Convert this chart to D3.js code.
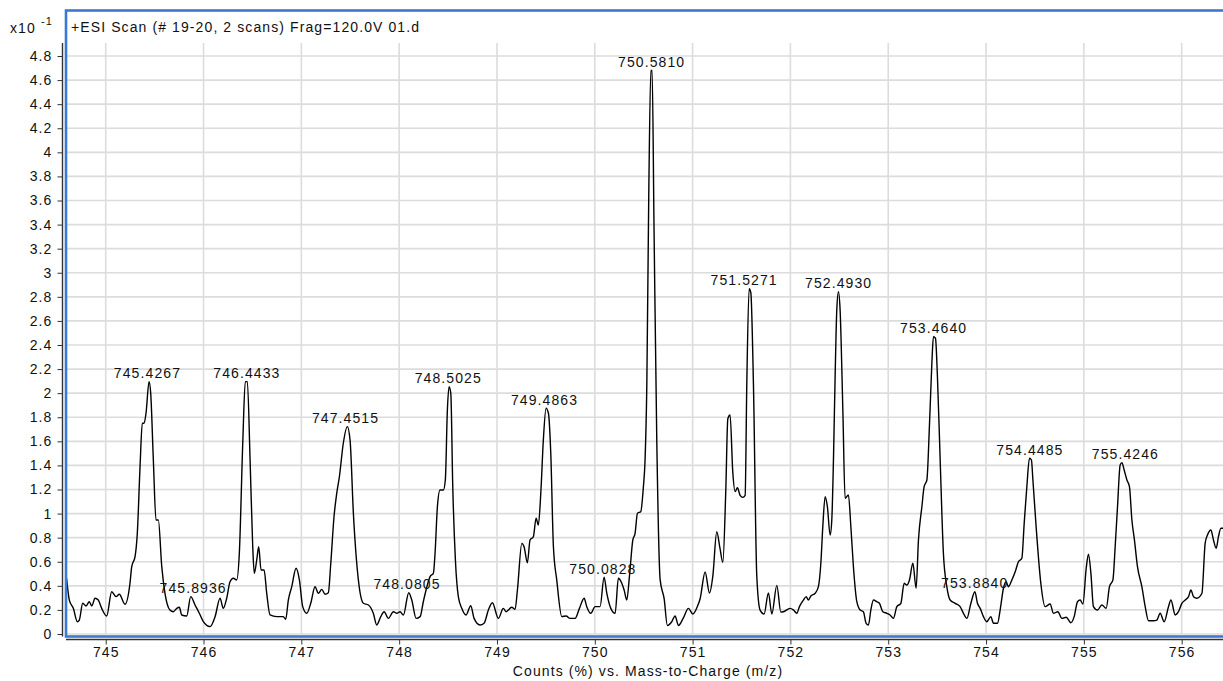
<!DOCTYPE html>
<html>
<head>
<meta charset="utf-8">
<script src="https://cdn.jsdelivr.net/npm/d3@7"></script>
<style>
  body { margin: 0; background: #fff; }
  text { font-family: "Liberation Sans", Arial, sans-serif; }
</style>
</head>
<body>
<div id="my_dataviz"></div>
<script>
// spectrum trace, m/z and counts (x10^-1)
var mzValues = [
  744.600, 744.628, 744.669, 744.710, 744.730, 744.765, 744.799, 744.832, 744.857, 744.891,
  744.924, 744.959, 745.010, 745.061, 745.105, 745.139, 745.197, 745.248, 745.266, 745.300,
  745.323, 745.351, 745.374, 745.392, 745.412, 745.443, 745.460, 745.487, 745.514, 745.538,
  745.573, 745.606, 745.657, 745.691, 745.726, 745.753, 745.777, 745.828, 745.869, 745.913,
  745.957, 745.998, 746.067, 746.118, 746.169, 746.202, 746.237, 746.271, 746.305, 746.339,
  746.366, 746.401, 746.427, 746.448, 746.476, 746.503, 746.519, 746.544, 746.564, 746.588,
  746.619, 746.646, 746.680, 746.748, 746.816, 746.840, 746.867, 746.902, 746.946, 746.980,
  747.014, 747.055, 747.096, 747.140, 747.174, 747.209, 747.242, 747.276, 747.301, 747.334,
  747.362, 747.389, 747.429, 747.470, 747.498, 747.532, 747.583, 747.634, 747.685, 747.736,
  747.771, 747.812, 747.846, 747.890, 747.941, 747.976, 748.009, 748.043, 748.098, 748.129,
  748.173, 748.214, 748.247, 748.275, 748.316, 748.350, 748.367, 748.391, 748.418, 748.452,
  748.472, 748.493, 748.510, 748.528, 748.548, 748.575, 748.605, 748.640, 748.684, 748.732,
  748.766, 748.827, 748.868, 748.912, 748.953, 749.014, 749.065, 749.093, 749.151, 749.185,
  749.209, 749.254, 749.277, 749.311, 749.338, 749.372, 749.400, 749.423, 749.448, 749.474,
  749.502, 749.526, 749.550, 749.577, 749.611, 749.663, 749.707, 749.747, 749.799, 749.843,
  749.891, 749.918, 749.959, 750.003, 750.054, 750.095, 750.123, 750.164, 750.208, 750.241,
  750.276, 750.300, 750.327, 750.354, 750.389, 750.412, 750.436, 750.470, 750.497, 750.514,
  750.532, 750.552, 750.573, 750.586, 750.606, 750.634, 750.668, 750.709, 750.742, 750.787,
  750.821, 750.855, 750.906, 750.957, 751.002, 751.049, 751.077, 751.128, 751.172, 751.207,
  751.247, 751.281, 751.309, 751.339, 751.360, 751.383, 751.411, 751.435, 751.458, 751.486,
  751.513, 751.537, 751.554, 751.578, 751.595, 751.622, 751.656, 751.690, 751.731, 751.775,
  751.810, 751.861, 751.902, 751.928, 751.997, 752.031, 752.065, 752.092, 752.133, 752.161,
  752.184, 752.209, 752.253, 752.286, 752.311, 752.331, 752.355, 752.378, 752.406, 752.423,
  752.440, 752.457, 752.474, 752.491, 752.508, 752.536, 752.559, 752.593, 752.618, 752.644,
  752.679, 752.713, 752.746, 752.774, 752.798, 752.822, 752.849, 752.883, 752.910, 752.945,
  752.986, 753.019, 753.053, 753.088, 753.129, 753.163, 753.190, 753.217, 753.252, 753.285,
  753.309, 753.344, 753.367, 753.395, 753.421, 753.446, 753.462, 753.483, 753.503, 753.531,
  753.564, 753.599, 753.633, 753.684, 753.735, 753.769, 753.804, 753.845, 753.886, 753.912,
  753.940, 753.973, 754.008, 754.049, 754.076, 754.117, 754.144, 754.178, 754.205, 754.229,
  754.264, 754.298, 754.331, 754.366, 754.390, 754.417, 754.444, 754.464, 754.479, 754.512,
  754.560, 754.604, 754.655, 754.689, 754.734, 754.775, 754.819, 754.867, 754.901, 754.935,
  754.962, 754.990, 755.024, 755.047, 755.072, 755.098, 755.139, 755.184, 755.228, 755.262,
  755.297, 755.320, 755.344, 755.371, 755.389, 755.412, 755.440, 755.466, 755.491, 755.517,
  755.548, 755.593, 755.627, 755.661, 755.712, 755.746, 755.780, 755.821, 755.865, 755.890,
  755.934, 755.967, 756.002, 756.036, 756.070, 756.094, 756.121, 756.155, 756.207, 756.240,
  756.264, 756.299, 756.325, 756.353, 756.376, 756.401, 756.424
];
var countValues = [
  0.463, 0.282, 0.213, 0.102, 0.116, 0.255, 0.233, 0.268, 0.233, 0.297,
  0.282, 0.213, 0.150, 0.351, 0.310, 0.330, 0.247, 0.421, 0.559, 0.642,
  0.836, 1.390, 1.750, 1.750, 1.833, 2.096, 1.999, 1.445, 0.947, 0.947,
  0.559, 0.338, 0.199, 0.185, 0.213, 0.222, 0.158, 0.150, 0.310, 0.241,
  0.172, 0.102, 0.061, 0.144, 0.297, 0.213, 0.297, 0.434, 0.463, 0.449,
  0.670, 1.584, 2.096, 2.096, 1.445, 0.725, 0.504, 0.615, 0.725, 0.532,
  0.532, 0.338, 0.158, 0.144, 0.144, 0.122, 0.282, 0.393, 0.546, 0.449,
  0.227, 0.172, 0.255, 0.393, 0.338, 0.371, 0.330, 0.343, 0.587, 0.974,
  1.169, 1.306, 1.584, 1.722, 1.611, 1.003, 0.449, 0.255, 0.241, 0.172,
  0.075, 0.144, 0.185, 0.130, 0.185, 0.172, 0.185, 0.158, 0.343, 0.282,
  0.130, 0.144, 0.268, 0.365, 0.476, 0.504, 0.670, 1.057, 1.196, 1.196,
  1.279, 1.860, 2.054, 1.999, 1.223, 0.615, 0.310, 0.213, 0.158, 0.235,
  0.130, 0.075, 0.089, 0.199, 0.260, 0.130, 0.213, 0.185, 0.222, 0.205,
  0.365, 0.753, 0.725, 0.592, 0.781, 0.808, 0.961, 0.905, 1.169, 1.611,
  1.875, 1.833, 1.501, 0.725, 0.449, 0.144, 0.150, 0.130, 0.130, 0.213,
  0.297, 0.227, 0.172, 0.227, 0.227, 0.471, 0.338, 0.213, 0.172, 0.463,
  0.421, 0.365, 0.282, 0.476, 0.781, 0.836, 1.003, 1.016, 1.223, 1.445,
  2.073, 3.663, 4.679, 4.679, 3.345, 1.596, 0.452, 0.293, 0.071, 0.102,
  0.150, 0.071, 0.134, 0.213, 0.166, 0.229, 0.293, 0.515, 0.341, 0.483,
  0.849, 0.706, 0.595, 1.183, 1.787, 1.819, 1.341, 1.183, 1.214, 1.151,
  1.135, 1.151, 2.073, 2.867, 2.836, 2.073, 0.483, 0.198, 0.166, 0.341,
  0.166, 0.404, 0.182, 0.185, 0.213, 0.199, 0.172, 0.227, 0.282, 0.310,
  0.282, 0.316, 0.338, 0.393, 0.587, 0.891, 1.140, 1.057, 0.822, 0.947,
  1.445, 2.137, 2.691, 2.843, 2.691, 1.860, 1.127, 1.154, 0.891, 0.559,
  0.268, 0.199, 0.185, 0.089, 0.075, 0.199, 0.282, 0.268, 0.255, 0.185,
  0.172, 0.158, 0.130, 0.227, 0.255, 0.421, 0.407, 0.449, 0.587, 0.380,
  0.781, 1.057, 1.223, 1.279, 1.722, 2.248, 2.469, 2.456, 2.137, 1.445,
  0.670, 0.393, 0.282, 0.255, 0.227, 0.172, 0.130, 0.255, 0.351, 0.255,
  0.213, 0.144, 0.102, 0.144, 0.089, 0.089, 0.199, 0.380, 0.434, 0.393,
  0.449, 0.517, 0.600, 0.629, 0.919, 1.223, 1.459, 1.445, 1.279, 0.891,
  0.421, 0.227, 0.249, 0.172, 0.185, 0.130, 0.139, 0.094, 0.144, 0.268,
  0.282, 0.249, 0.546, 0.662, 0.504, 0.227, 0.199, 0.241, 0.213, 0.393,
  0.449, 0.725, 1.057, 1.404, 1.423, 1.362, 1.279, 1.223, 0.947, 0.781,
  0.559, 0.393, 0.227, 0.110, 0.110, 0.116, 0.172, 0.102, 0.227, 0.282,
  0.158, 0.185, 0.255, 0.282, 0.310, 0.365, 0.310, 0.297, 0.338, 0.753,
  0.822, 0.864, 0.781, 0.712, 0.808, 0.878, 0.878
];

// labelled peaks
var peakLabels = [
  "745.4267", "745.8936", "746.4433", "747.4515", "748.0805", "748.5025", "749.4863", "750.0828",
  "750.5810", "751.5271", "752.4930", "753.4640", "753.8840", "754.4485", "755.4246"
];

var xTicks = [745, 746, 747, 748, 749, 750, 751, 752, 753, 754, 755, 756];
var yTicks = [0, 0.2, 0.4, 0.6, 0.8, 1, 1.2, 1.4, 1.6, 1.8, 2, 2.2, 2.4, 2.6, 2.8, 3,
              3.2, 3.4, 3.6, 3.8, 4, 4.2, 4.4, 4.6, 4.8];

var titleText = "+ESI Scan (# 19-20, 2 scans) Frag=120.0V 01.d";
var xAxisTitle = "Counts (%) vs. Mass-to-Charge (m/z)";

var width = 1223, height = 681;
var plotLeft = 66, plotRight = 1221, plotTop = 43, plotBottom = 634;

var data = mzValues.map(function (m, i) { return { mz: m, c: countValues[i] }; });

var svg = d3.select("#my_dataviz")
    .append("svg")
    .attr("width", width)
    .attr("height", height)
    .style("display", "block");

var x = d3.scaleLinear().domain([744.594, 756.402]).range([plotLeft, plotRight]);
var y = d3.scaleLinear().domain([0, 4.8]).range([plotBottom, 56]);

var font = { size: "14px", spacing: "1.1px" };

// grid (runs out past the right edge of the window)
svg.append("g")
    .selectAll("line")
    .data(yTicks)
    .enter()
    .append("line")
    .attr("x1", plotLeft).attr("x2", width)
    .attr("y1", function (d) { return y(d); })
    .attr("y2", function (d) { return y(d); })
    .attr("stroke", "#dcdcdc")
    .attr("stroke-width", 1.6);

svg.append("g")
    .selectAll("line")
    .data(xTicks)
    .enter()
    .append("line")
    .attr("x1", function (d) { return x(d); })
    .attr("x2", function (d) { return x(d); })
    .attr("y1", plotTop).attr("y2", plotBottom)
    .attr("stroke", "#dcdcdc")
    .attr("stroke-width", 1.6);

// clip for the trace
svg.append("clipPath")
    .attr("id", "plotclip")
    .append("rect")
    .attr("x", plotLeft).attr("y", plotTop)
    .attr("width", width - plotLeft)
    .attr("height", plotBottom - plotTop + 2);

var line = d3.line()
    .curve(d3.curveMonotoneX)
    .x(function (d) { return x(d.mz); })
    .y(function (d) { return y(d.c); });

svg.append("path")
    .datum(data)
    .attr("clip-path", "url(#plotclip)")
    .attr("d", line)
    .attr("fill", "none")
    .attr("stroke", "#000")
    .attr("stroke-width", 1.4)
    .attr("stroke-linejoin", "round");

// peak labels, sitting just above the local maximum of the trace
svg.append("g")
    .selectAll("text")
    .data(peakLabels)
    .enter()
    .append("text")
    .attr("x", function (d) { return x(+d); })
    .attr("y", function (d) {
        var near = data.filter(function (p) { return Math.abs(p.mz - (+d)) < 0.07; });
        var top = d3.max(near, function (p) { return p.c; });
        return y(top) - 3.5;
    })
    .attr("text-anchor", "middle")
    .style("font-size", font.size)
    .style("letter-spacing", font.spacing)
    .attr("fill", "#111")
    .text(function (d) { return d; });

// y axis
var yAxis = svg.append("g")
    .attr("transform", "translate(62.5,0)")
    .call(d3.axisLeft(y).tickValues(yTicks).tickSize(5).tickPadding(5)
        .tickFormat(function (d) { return String(+d.toFixed(1)); }));
yAxis.select(".domain").remove();
yAxis.selectAll("text").style("font-size", font.size).style("letter-spacing", font.spacing)
    .style("font-family", "'Liberation Sans', Arial, sans-serif").attr("fill", "#111");
yAxis.selectAll("line").attr("stroke", "#333");
svg.append("line")
    .attr("x1", 62.5).attr("x2", 62.5)
    .attr("y1", plotTop).attr("y2", 636.5)
    .attr("stroke", "#333").attr("stroke-width", 1.4);

// x axis
var xAxis = svg.append("g")
    .attr("transform", "translate(0,639.5)")
    .call(d3.axisBottom(x).tickValues(xTicks).tickSize(5).tickPadding(3)
        .tickFormat(d3.format("d")));
xAxis.select(".domain").remove();
xAxis.selectAll("text").style("font-size", font.size).style("letter-spacing", font.spacing)
    .style("font-family", "'Liberation Sans', Arial, sans-serif").attr("fill", "#111");
xAxis.selectAll("line").attr("stroke", "#333");
svg.append("line")
    .attr("x1", 66).attr("x2", width)
    .attr("y1", 639.5).attr("y2", 639.5)
    .attr("stroke", "#333").attr("stroke-width", 1.4);

svg.append("text")
    .attr("x", 648)
    .attr("y", 676)
    .attr("text-anchor", "middle")
    .style("font-size", font.size)
    .style("letter-spacing", font.spacing)
    .attr("fill", "#111")
    .text(xAxisTitle);

// scale factor at top left
var sf = svg.append("text")
    .attr("x", 10)
    .attr("y", 33)
    .style("font-size", font.size)
    .style("letter-spacing", font.spacing)
    .attr("fill", "#111");
sf.append("tspan").text("x10 ");
sf.append("tspan").attr("dy", -8).style("font-size", "11px").text("-1");

// title inside the frame
svg.append("text")
    .attr("x", 71)
    .attr("y", 32)
    .style("font-size", font.size)
    .style("letter-spacing", font.spacing)
    .attr("fill", "#111")
    .text(titleText);

// blue selection frame, its right side is off the window
svg.append("rect")
    .attr("x", 66).attr("y", 10.5)
    .attr("width", 1180).attr("height", 626)
    .attr("fill", "none")
    .attr("stroke", "#3b78d4")
    .attr("stroke-width", 2.6);
</script>
</body>
</html>
